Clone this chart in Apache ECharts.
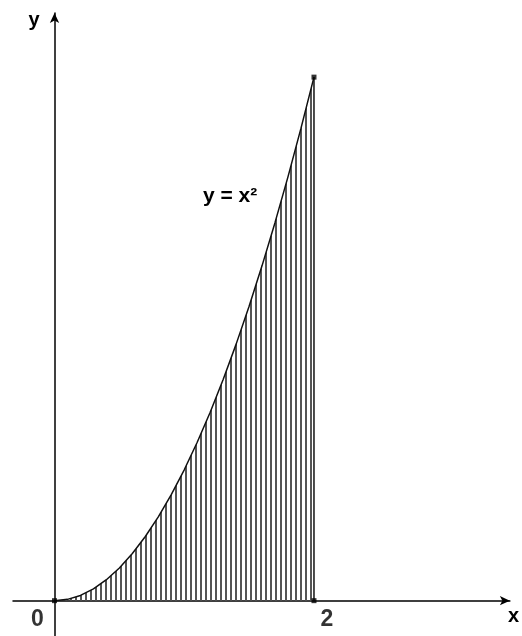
<!DOCTYPE html>
<html>
<head>
<meta charset="utf-8">
<script src="https://cdn.jsdelivr.net/npm/echarts@6/dist/echarts.min.js"></script>
<style>
  html, body { margin: 0; padding: 0; background: #fff; }
  #chart { width: 522px; height: 636px; }
</style>
</head>
<body>
<div id="chart"></div>
<script>
// curve y = x^2 at 0.1 steps
const curveX = [0, 0.1, 0.2, 0.3, 0.4, 0.5, 0.6, 0.7, 0.8, 0.9, 1.0,
                1.1, 1.2, 1.3, 1.4, 1.5, 1.6, 1.7, 1.8, 1.9, 2.0];
const curveY = [0, 0.01, 0.04, 0.09, 0.16, 0.25, 0.36, 0.49, 0.64, 0.81, 1.0,
                1.21, 1.44, 1.69, 1.96, 2.25, 2.56, 2.89, 3.24, 3.61, 4.0];
// right edge of the shaded region
const edgeX = [2, 2];
const edgeY = [0, 4];
// marked points
const dotX = [0, 2, 2];
const dotY = [0, 0, 4];
// tick labels on the x axis
const tickValues = [0, 2];
const tickLabels = ['0', '2'];
const curveName = 'y = x²';

const font = "'Liberation Sans', Arial, sans-serif";

const chart = echarts.init(document.getElementById('chart'));

const option = {
  animation: false,
  backgroundColor: '#fff',
  grid: { left: 13, right: 7, top: 13, bottom: 0 },
  xAxis: {
    type: 'value',
    min: -0.32,
    max: 3.51,
    name: 'x',
    nameLocation: 'end',
    nameGap: -2,
    nameTextStyle: {
      fontFamily: font, fontWeight: 'bold', fontSize: 20, color: '#000',
      verticalAlign: 'top', padding: [6, 0, 0, 0]
    },
    axisLine: {
      onZero: true,
      symbol: ['none', 'arrow'],
      symbolSize: [7, 10],
      lineStyle: { color: '#000', width: 1.5 }
    },
    axisTick: { show: false },
    axisLabel: { show: false },
    splitLine: { show: false }
  },
  yAxis: {
    type: 'value',
    min: -0.27,
    max: 4.49,
    name: 'y',
    nameLocation: 'end',
    nameGap: 3,
    nameTextStyle: {
      fontFamily: font, fontWeight: 'bold', fontSize: 20, color: '#000',
      align: 'right', verticalAlign: 'top', padding: [0, 15, 0, 0]
    },
    axisLine: {
      onZero: true,
      symbol: ['none', 'arrow'],
      symbolSize: [7, 10],
      lineStyle: { color: '#000', width: 1.5 }
    },
    axisTick: { show: false },
    axisLabel: { show: false },
    splitLine: { show: false }
  },
  series: [
    {
      name: curveName,
      type: 'line',
      data: curveX.map((x, i) => [x, curveY[i]]),
      showSymbol: false,
      lineStyle: { color: '#111', width: 1.5 },
      itemStyle: {
        color: '#111',
        decal: {
          symbol: 'rect',
          symbolSize: 1,
          color: '#555',
          backgroundColor: 'rgba(0,0,0,0)',
          dashArrayX: [2, 3],
          dashArrayY: [4, 0],
          rotation: 0
        }
      },
      areaStyle: { color: 'rgba(255,255,255,0)', opacity: 1 },
      z: 3
    },
    {
      type: 'line',
      data: edgeX.map((x, i) => [x, edgeY[i]]),
      showSymbol: false,
      lineStyle: { color: '#111', width: 1.5 },
      z: 3
    },
    {
      type: 'scatter',
      data: dotX.map((x, i) => [x, dotY[i]]),
      symbol: 'rect',
      symbolSize: 5,
      itemStyle: { color: '#000' },
      z: 5
    },
    {
      type: 'scatter',
      data: tickValues.map((v, i) => ({
        value: [v, 0],
        label: { formatter: tickLabels[i], offset: [i === 0 ? -17 : 13, 19] }
      })),
      symbolSize: 0,
      label: {
        show: true,
        position: 'inside',
        fontFamily: font,
        fontWeight: 'bold',
        fontSize: 23,
        color: '#000'
      },
      z: 6
    }
  ],
  graphic: [
    {
      type: 'text',
      left: 203,
      top: 186,
      style: {
        text: curveName,
        fontFamily: font,
        fontWeight: 'bold',
        fontSize: 21,
        fill: '#000'
      }
    }
  ]
};

chart.setOption(option);
</script>
</body>
</html>
